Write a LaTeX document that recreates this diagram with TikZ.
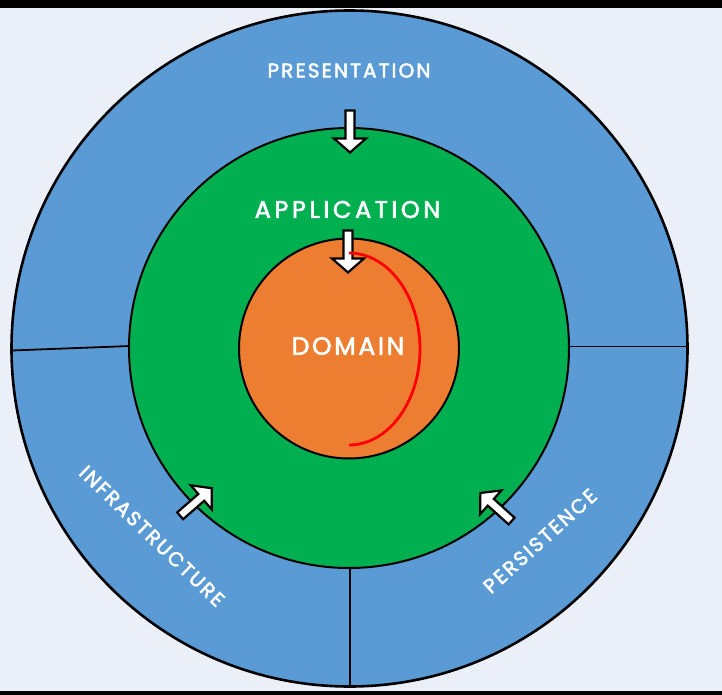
\documentclass[tikz,border=0pt]{standalone}
\usepackage{fontspec}
\setmainfont{Poppins}
\newfontfamily\lblfont{Poppins}[LetterSpace=10.5, FakeBold=2.5]
\newfontfamily\lblfontw{Poppins}[LetterSpace=15, FakeBold=2.5]
\definecolor{bgc}{HTML}{EBEFF8}
\definecolor{bluec}{HTML}{5B9BD5}
\definecolor{greenc}{HTML}{00B050}
\definecolor{orangec}{HTML}{ED7D31}
\definecolor{redc}{HTML}{FF0000}
\tikzset{
  ring/.style={draw=black, line width=2pt},
  divider/.style={draw=black, line width=1.8pt},
  blockarrow/.style={fill=white, draw=black, line width=2.2pt, line join=miter},
  lbl/.style={text=white, inner sep=0pt, font=#1},
}
\newcommand{\myarrow}[3]{%
  \begin{scope}[shift={(#1,#2)}, rotate=#3]
    \draw[blockarrow] (-21,-4.5) -- (7,-4.5) -- (7,-16) -- (21,0) -- (7,16) -- (7,4.5) -- (-21,4.5) -- cycle;
  \end{scope}}
\begin{document}
\begin{tikzpicture}[x=1pt,y=-1pt]
\useasboundingbox (0,0) rectangle (722,695);
\fill[bgc] (0,0) rectangle (722,695);
\fill[black] (0,0) rectangle (722,8.5);
\fill[black] (0,691) rectangle (722,695);
% outer ring
\coordinate (c) at (349.5,348.5);
\fill[bluec] (c) circle[radius=338];
\coordinate (l1) at (12,350.5);
\coordinate (l2) at (130,346);
\coordinate (r1) at (568,346.5);
\coordinate (r2) at (688,346.5);
\coordinate (b1) at (350,566);
\coordinate (b2) at (350,688);
\draw[divider] (l1) -- (l2);
\draw[divider] (r1) -- (r2);
\draw[divider] (b1) -- (b2);
\draw[ring, line width=2.6pt] (c) circle[radius=338];
% green ring
\draw[ring, fill=greenc] (349,348) circle[radius=220];
% orange core
\draw[ring, fill=orangec] (349,348.5) circle[radius=110];
% arrows
\myarrow{350}{131.5}{-90}
\myarrow{348}{251.5}{-90}
\myarrow{196}{502}{41}
\myarrow{496}{507}{138}
% red arc
\draw[redc, line width=2.8pt] (349,253) arc[start angle=-90, end angle=90, x radius=71, y radius=96];
% labels
\node[lbl=\lblfont\fontsize{20}{20}\selectfont] (pres) at (349,70.5) {PRESENTATION};
\node[lbl=\lblfontw\fontsize{24}{24}\selectfont] (app) at (347.5,209.5) {APPLICATION};
\node[lbl=\lblfont\fontsize{25}{25}\selectfont] (dom) at (348,346) {DOMAIN};
\node[lbl=\lblfont\fontsize{20}{20}\selectfont, rotate=-44] (infra) at (152,536) {INFRASTRUCTURE};
\node[lbl=\lblfont\fontsize{20}{20}\selectfont, rotate=42] (pers) at (540,541) {PERSISTENCE};
\end{tikzpicture}
\end{document}
